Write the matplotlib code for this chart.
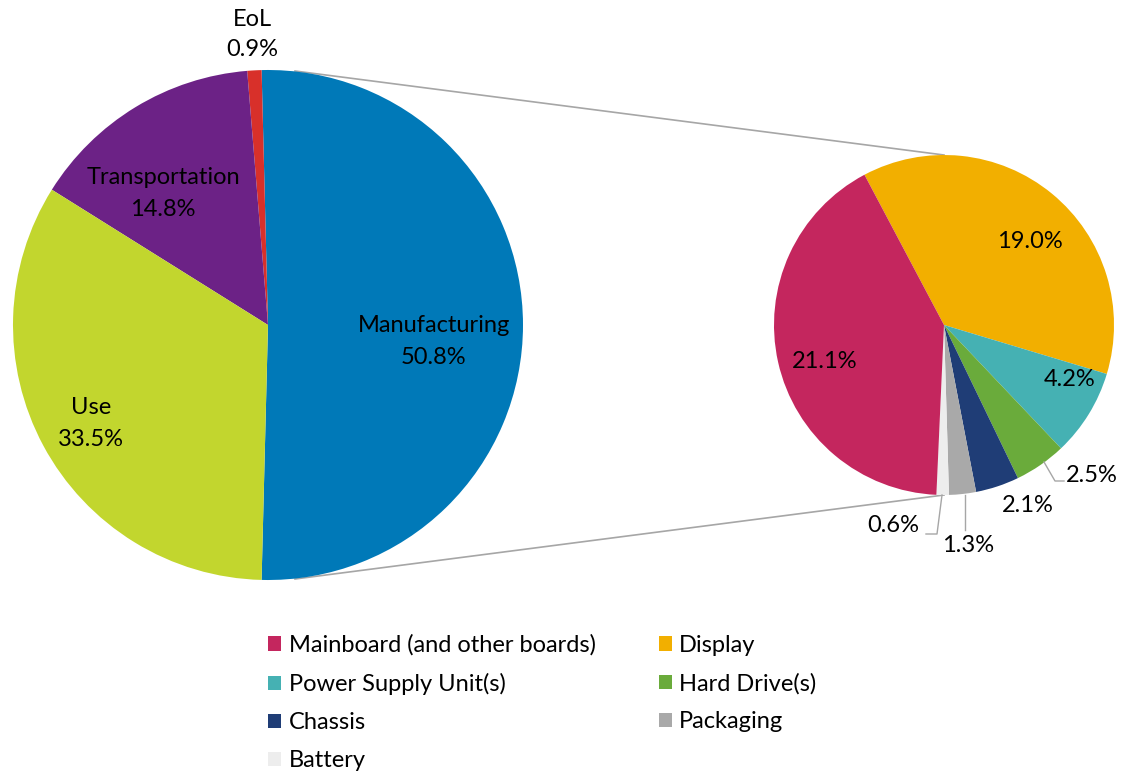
import matplotlib
matplotlib.use("Agg")
import matplotlib.pyplot as plt
from matplotlib.patches import Patch

plt.rcParams["font.family"] = ["Lato", "DejaVu Sans"]

W, H = 1122, 774

# main pie (life cycle phases)
phase_names = ["Manufacturing", "EoL", "Transportation", "Use"]
phase_vals = [50.8, 0.9, 14.8, 33.5]
phase_colors = ["#0079B8", "#D8302A", "#6C2286", "#C2D62E"]

# breakdown of manufacturing
part_names = ["Display", "Power Supply Unit(s)", "Hard Drive(s)", "Chassis",
              "Packaging", "Battery", "Mainboard (and other boards)"]
part_vals = [19.0, 4.2, 2.5, 2.1, 1.3, 0.6, 21.1]
part_colors = ["#F2AF00", "#45B1B3", "#6AAB3B", "#1F3D76",
               "#A9A9A9", "#EDEDED", "#C4265E"]

FS = 17


def Y(y):
    # image row -> axes y
    return H - y


fig = plt.figure(figsize=(W / 100, H / 100), dpi=100)
ax = fig.add_axes([0, 0, 1, 1])

# left pie: manufacturing centred on the right side
c1, r1 = (268, Y(325)), 255
start1 = -phase_vals[0] / 100 * 360 / 2
ax.pie(phase_vals, colors=phase_colors, startangle=start1, counterclock=True,
       center=c1, radius=r1, wedgeprops=dict(linewidth=0))

# right pie
c2, r2 = (944, Y(325)), 170
ax.pie(part_vals, colors=part_colors, startangle=117.9, counterclock=False,
       center=c2, radius=r2, wedgeprops=dict(linewidth=0))

ax.set_xlim(0, W)
ax.set_ylim(0, H)
ax.set_aspect("equal")
ax.axis("off")

# connector lines
ax.plot([295, 944], [Y(71), Y(155)], color="#A6A6A6", lw=1.2, zorder=0)
ax.plot([295, 944], [Y(579), Y(495)], color="#A6A6A6", lw=1.2, zorder=0)

# labels on the main pie
main_lbl = {"EoL": (252, 20, 50), "Transportation": (163, 177, 209),
            "Use": (91, 408, 440), "Manufacturing": (434, 326, 357)}
for name, v in zip(phase_names, phase_vals):
    x, ya, yb = main_lbl[name]
    ax.text(x, Y(ya), name, ha="center", va="center", fontsize=FS)
    ax.text(x, Y(yb), f"{v:.1f}%", ha="center", va="center", fontsize=FS)

# labels on the breakdown pie
part_lbl = {"Display": (1030, 241), "Mainboard (and other boards)": (825, 361),
            "Power Supply Unit(s)": (1070, 380), "Hard Drive(s)": (1092, 475),
            "Chassis": (1028, 506), "Battery": (893, 526), "Packaging": (968, 546)}
for name, v in zip(part_names, part_vals):
    x, y = part_lbl[name]
    ax.text(x, Y(y), f"{v:.1f}%", ha="center", va="center", fontsize=FS)

# leader lines
lc = "#A6A6A6"
ax.plot([1044, 1055, 1064], [Y(462), Y(481), Y(481)], color=lc, lw=1)
ax.plot([942, 937, 926], [Y(495), Y(534), Y(534)], color=lc, lw=1)
ax.plot([965, 965], [Y(495), Y(530)], color=lc, lw=1)

# legend (column-major order)
col = dict(zip(part_names, part_colors))
order = ["Mainboard (and other boards)", "Power Supply Unit(s)", "Chassis", "Battery",
         "Display", "Hard Drive(s)", "Packaging"]
handles = [Patch(facecolor=col[n], edgecolor="none", label=n) for n in order]
ax.legend(handles=handles, ncol=2, loc="upper left",
          bbox_to_anchor=(259 / W, 1 - 625 / H), frameon=False, fontsize=FS,
          handlelength=0.55, handleheight=0.55, handletextpad=0.3,
          labelspacing=0.72, columnspacing=2.7, borderaxespad=0)

fig.savefig("out.png", dpi=100)
